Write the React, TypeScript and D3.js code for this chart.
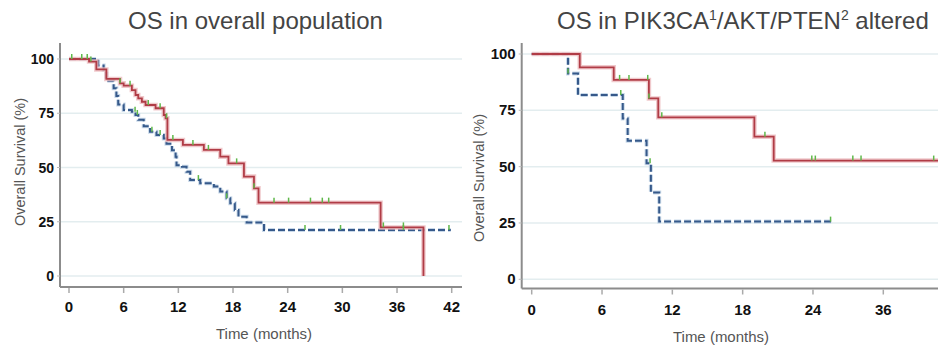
import React, { useEffect, useRef } from 'react'
import * as d3 from 'd3'

// overall population (left panel)
const allRedT = [0, 2.2, 3.0, 4.1, 5.6, 6.0, 6.9, 7.3, 7.6, 8.0, 8.4, 9.5, 10.4, 10.6, 10.8, 12.5, 14.8, 16.6, 17.5, 19.2, 20.3, 20.8, 34.2, 38.9]
const allRedS = [100, 98.8, 95.2, 90.8, 88.8, 87.7, 85.7, 83.4, 81.9, 80.3, 78.8, 77.3, 74.2, 72.7, 62.7, 60.4, 58.1, 55, 51.9, 45.8, 40.4, 33.8, 22.4, 0]
const allRedCens = [0.3, 1.4, 2.0, 2.4, 5.6, 6.7, 8.7, 10.0, 10.7, 11.4, 13.6, 15.3, 18.4, 20.3, 22.5, 24.1, 26.5, 27.8, 28.5, 34.5, 36.7]
const allBlueT = [0, 3.2, 3.8, 4.1, 4.9, 5.2, 5.4, 6.0, 6.9, 7.3, 7.6, 8.2, 8.9, 9.6, 10.4, 10.7, 11.3, 11.7, 11.8, 12.4, 12.9, 13.3, 14.4, 15.9, 16.6, 17.3, 17.7, 18.2, 18.6, 19.5, 21.4, 41.9]
const allBlueS = [100, 97, 95, 90, 86.5, 83, 79, 76.5, 75.7, 74.2, 72, 69, 66.5, 65, 63.4, 61, 58, 55, 51, 50.4, 48, 44.2, 42.7, 41.2, 38.9, 35.8, 33.5, 30.4, 27.3, 24.6, 21.2, 21.2]
const allBlueCens = [7.25, 7.5, 9.1, 10.0, 14.2, 17.3, 25.9, 29.8, 36.7, 41.7]
const allTicks = [0, 6, 12, 18, 24, 30, 36, 42]
const allTickLabels = ['0', '6', '12', '18', '24', '30', '36', '42']

// PIK3CA/AKT/PTEN altered (right panel)
const altRedT = [0, 4.1, 7.0, 10.0, 10.8, 19.0, 20.65, 34.7]
const altRedS = [100, 94.1, 88.5, 80.3, 71.9, 63.3, 52.7, 52.7]
const altRedCens = [7.5, 8.3, 9.9, 10.0, 11.1, 19.9, 23.9, 24.2, 27.4, 28.1, 34.3]
const altBlueT = [0, 3.1, 3.95, 7.77, 8.19, 9.8, 10.17, 10.88, 25.6]
const altBlueS = [100, 91.4, 81.8, 71.4, 61.5, 51.5, 38.5, 25.6, 25.6]
const altBlueCens = [3.1, 7.6, 10.1, 25.5]
const altTicks = [0, 6, 12, 18, 24, 30]
const altTickLabels = ['0', '6', '12', '18', '24', '36']

const yTicks = [0, 25, 50, 75, 100]

const RED = '#b03c46'
const RED_HALO = '#ecbcbf'
const BLUE = '#36598a'
const BLUE_HALO = '#bcd0e4'
const CENS = '#5fb84a'

const font = '"Liberation Sans", Arial, sans-serif'

function survAt(T: number[], S: number[], t: number) {
  let s = S[0]
  for (let i = 0; i < T.length; i++) if (T[i] <= t) s = S[i]
  return s
}

function panel(svg: any, o: any) {
  const x = d3.scaleLinear().domain(o.xDomain).range(o.xRange)
  const y = d3.scaleLinear().domain([0, 100]).range(o.yRange)
  const g = svg.append('g')

  // grid
  g.selectAll('line.grid').data(yTicks).enter().append('line')
    .attr('x1', o.axisX).attr('x2', o.right)
    .attr('y1', (d: number) => y(d)).attr('y2', (d: number) => y(d))
    .attr('stroke', '#e3edef').attr('stroke-width', 1.5)

  // axes
  g.append('line').attr('x1', o.axisX).attr('x2', o.axisX).attr('y1', 43).attr('y2', o.axisY)
    .attr('stroke', '#8c8c8c').attr('stroke-width', 2)
  g.append('line').attr('x1', o.axisX).attr('x2', o.right).attr('y1', o.axisY).attr('y2', o.axisY)
    .attr('stroke', '#8c8c8c').attr('stroke-width', 2)

  g.selectAll('line.xt').data(o.ticks).enter().append('line')
    .attr('x1', (d: number) => x(d)).attr('x2', (d: number) => x(d))
    .attr('y1', o.axisY + 1).attr('y2', o.axisY + 6)
    .attr('stroke', '#aaa').attr('stroke-width', 1.5)
  g.selectAll('text.xl').data(o.ticks).enter().append('text')
    .attr('x', (d: number) => x(d)).attr('y', o.xLabelY)
    .attr('text-anchor', 'middle').attr('font-family', font).attr('font-weight', 'bold')
    .attr('font-size', 15).attr('fill', '#111')
    .text((d: number, i: number) => o.tickLabels[i])

  g.selectAll('line.yt').data(yTicks).enter().append('line')
    .attr('x1', o.axisX - 3).attr('x2', o.axisX)
    .attr('y1', (d: number) => y(d)).attr('y2', (d: number) => y(d))
    .attr('stroke', '#bbb')
  g.selectAll('text.yl').data(yTicks).enter().append('text')
    .attr('x', o.axisX - 6).attr('y', (d: number) => y(d) + 5)
    .attr('text-anchor', 'end').attr('font-family', font).attr('font-weight', 'bold')
    .attr('font-size', o.yFont).attr('fill', '#111')
    .text((d: number) => d)

  g.append('text').attr('x', o.xTitleX).attr('y', o.xTitleY).attr('text-anchor', 'middle')
    .attr('font-family', font).attr('font-size', 15).attr('fill', '#555').text('Time (months)')
  g.append('text').attr('transform', `translate(${o.yTitleX},${o.yTitleY}) rotate(-90)`)
    .attr('text-anchor', 'middle').attr('font-family', font).attr('font-size', 14.5)
    .attr('fill', '#555').text('Overall Survival (%)')

  const line = d3.line<number>().x((d: number, i: number) => x(o.blueT[i])).y((d: number) => y(d)).curve(d3.curveStepAfter)
  const lineR = d3.line<number>().x((d: number, i: number) => x(o.redT[i])).y((d: number) => y(d)).curve(d3.curveStepAfter)

  g.append('path').attr('d', line(o.blueS)).attr('fill', 'none').attr('stroke', BLUE_HALO)
    .attr('stroke-width', 4).attr('stroke-dasharray', '7,3').attr('opacity', 0.8)
  g.append('path').attr('d', line(o.blueS)).attr('fill', 'none').attr('stroke', BLUE)
    .attr('stroke-width', 2).attr('stroke-dasharray', '7,3')

  g.append('path').attr('d', lineR(o.redS)).attr('fill', 'none').attr('stroke', RED_HALO)
    .attr('stroke-width', 4.5).attr('opacity', 0.8)
  g.append('path').attr('d', lineR(o.redS)).attr('fill', 'none').attr('stroke', RED)
    .attr('stroke-width', 1.8)

  const cens = (ts: number[], T: number[], S: number[]) =>
    g.selectAll(null).data(ts).enter().append('line')
      .attr('x1', (d: number) => x(d)).attr('x2', (d: number) => x(d))
      .attr('y1', (d: number) => y(survAt(T, S, d)) - 5).attr('y2', (d: number) => y(survAt(T, S, d)))
      .attr('stroke', CENS).attr('stroke-width', 1.5)
  cens(o.blueCens, o.blueT, o.blueS)
  cens(o.redCens, o.redT, o.redS)
}

export default function App() {
  const ref = useRef<SVGSVGElement>(null)

  useEffect(() => {
    const svg = d3.select(ref.current)
    svg.selectAll('*').remove()

    svg.append('text').attr('x', 128).attr('y', 28.5).attr('font-family', font)
      .attr('font-size', 24).attr('fill', '#444').text('OS in overall population')
    const t2 = svg.append('text').attr('x', 557).attr('y', 28.5).attr('font-family', font)
      .attr('font-size', 24).attr('fill', '#444')
    t2.append('tspan').text('OS in PIK3CA')
    t2.append('tspan').attr('font-size', 14).attr('dy', -9).text('1')
    t2.append('tspan').attr('dy', 9).text('/AKT/PTEN')
    t2.append('tspan').attr('font-size', 14).attr('dy', -9).text('2')
    t2.append('tspan').attr('dy', 9).text(' altered')

    panel(svg, {
      xDomain: [0, 42], xRange: [69, 451.7], yRange: [276, 59],
      axisX: 60, axisY: 287, right: 462,
      ticks: allTicks, tickLabels: allTickLabels, xLabelY: 311.5, yFont: 14,
      xTitleX: 264, xTitleY: 339, yTitleX: 25, yTitleY: 162,
      redT: allRedT, redS: allRedS, redCens: allRedCens,
      blueT: allBlueT, blueS: allBlueS, blueCens: allBlueCens,
    })
    panel(svg, {
      xDomain: [0, 30], xRange: [531.7, 883.3], yRange: [279.3, 54],
      axisX: 521.7, axisY: 288.5, right: 938,
      ticks: altTicks, tickLabels: altTickLabels, xLabelY: 315, yFont: 15,
      xTitleX: 721, xTitleY: 342, yTitleX: 484, yTitleY: 178,
      redT: altRedT, redS: altRedS, redCens: altRedCens,
      blueT: altBlueT, blueS: altBlueS, blueCens: altBlueCens,
    })
  }, [])

  return (
    <svg ref={ref} width={938} height={345} style={{ position: 'absolute', left: 0, top: 0, background: '#fff' }} />
  )
}
